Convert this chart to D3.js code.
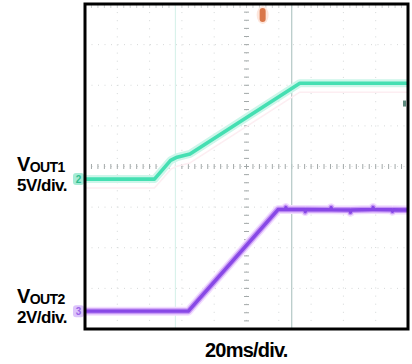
<!DOCTYPE html>
<html>
<head>
<meta charset="utf-8">
<script src="https://cdn.jsdelivr.net/npm/d3@7"></script>
<style>
  html, body { margin: 0; padding: 0; background: #fff; }
  svg { display: block; }
  text { font-family: "Liberation Sans", Arial, Helvetica, sans-serif; font-weight: bold; fill: #000; }
</style>
</head>
<body>
<svg id="scope" width="412" height="364"></svg>
<script>
// Time base: 20 ms per division, 10 divisions across the screen
const timeDomainMs = [-100, 100];
const divisionsY = [-4, 4];

// VOUT1 (channel 2), 5 V/div
const vout1TimeMs = [-100, -57, -47, -43, -35, 33, 100];
const vout1Volts  = [0, 0, 2.3, 2.7, 3.1, 11.8, 11.8];
const vout1VoltsPerDiv = 5;
const vout1GroundDiv = -0.31;

// VOUT2 (channel 3), 2 V/div, with the small switching spikes on the settled level
const vout2TimeMs = [-100, -60, -36, 19.5, 24, 24.4, 24.8, 36, 36.4, 36.8, 52, 52.4, 52.8,
                     64, 64.4, 64.8, 78, 78.4, 78.8, 90, 90.4, 90.8, 100];
const vout2Volts  = [0, 0, 0, 5.0, 5.0, 5.1, 5.0, 5.0, 4.9, 5.0, 4.99, 5.09, 4.99,
                     4.98, 4.87, 4.98, 5.0, 5.1, 5.0, 4.99, 4.92, 4.99, 4.98];
const vout2VoltsPerDiv = 2;
const vout2GroundDiv = -3.56;

// Cursor positions and trigger point (ms)
const cursorTimesMs = [-44, 28];
const triggerTimeMs = 10;

// Labels
const channelLabels = [
  { main: "V", sub: "OUT1", scale: "5V/div." },
  { main: "V", sub: "OUT2", scale: "2V/div." }
];
const timeLabel = "20ms/div.";

const svg = d3.select("#scope");
const frameL = 85, frameR = 408, frameT = 4, frameB = 329;

const x = d3.scaleLinear().domain(timeDomainMs).range([frameL, frameR]);
const y = d3.scaleLinear().domain(divisionsY).range([frameB, frameT]);

// Graticule: dotted division lines
const grid = svg.append("g");
const xDivs = d3.range(timeDomainMs[0] + 20, timeDomainMs[1], 20);
const yDivs = d3.range(divisionsY[0] + 1, divisionsY[1], 1);
grid.selectAll("line.v").data(xDivs).join("line")
  .attr("x1", d => x(d)).attr("x2", d => x(d))
  .attr("y1", frameT).attr("y2", frameB)
  .attr("stroke", "#d3d7d7").attr("stroke-width", 1)
  .attr("stroke-dasharray", "1,7.1");
grid.selectAll("line.h").data(yDivs).join("line")
  .attr("x1", frameL).attr("x2", frameR)
  .attr("y1", d => y(d)).attr("y2", d => y(d))
  .attr("stroke", "#d6d9d9").attr("stroke-width", 1)
  .attr("stroke-dasharray", "1,5.5");

// Minor ticks along the centre axes
const xMinor = d3.range(timeDomainMs[0], timeDomainMs[1] + 0.01, 4);
const yMinor = d3.range(divisionsY[0], divisionsY[1] + 0.01, 0.2);
grid.selectAll("line.xm").data(xMinor).join("line")
  .attr("x1", d => x(d)).attr("x2", d => x(d))
  .attr("y1", y(0) - 2.5).attr("y2", y(0) + 2.5)
  .attr("stroke", "#a3a9a9").attr("stroke-width", 1);
grid.selectAll("line.ym").data(yMinor).join("line")
  .attr("x1", x(0) - 2.5).attr("x2", x(0) + 2.5)
  .attr("y1", d => y(d)).attr("y2", d => y(d))
  .attr("stroke", "#a3a9a9").attr("stroke-width", 1);
// Minor ticks along the top edge
grid.selectAll("line.tm").data(xMinor).join("line")
  .attr("x1", d => x(d)).attr("x2", d => x(d))
  .attr("y1", frameT).attr("y2", frameT + 4)
  .attr("stroke", "#cdd1d1").attr("stroke-width", 1);

// Cursors
svg.append("g").selectAll("line").data(cursorTimesMs).join("line")
  .attr("x1", d => x(d)).attr("x2", d => x(d))
  .attr("y1", frameT).attr("y2", frameB)
  .attr("stroke", (d, i) => i === 0 ? "#d9f2eb" : "#b3c8c6")
  .attr("stroke-width", 1.2);

// Traces
function tracePoints(times, volts, vPerDiv, groundDiv) {
  return times.map((t, i) => [x(t), y(groundDiv + volts[i] / vPerDiv)]);
}
const line = d3.line();

const g1 = tracePoints(vout1TimeMs, vout1Volts, vout1VoltsPerDiv, vout1GroundDiv);
const g2 = tracePoints(vout2TimeMs, vout2Volts, vout2VoltsPerDiv, vout2GroundDiv);

const traces = svg.append("g").attr("stroke-linejoin", "round").attr("fill", "none");
traces.append("path").attr("d", line(g1.map(p => [p[0], p[1] + 9])))
  .attr("stroke", "#fdeef2").attr("stroke-width", 1.5);
traces.append("path").attr("d", line(g1))
  .attr("stroke", "#cdf6ea").attr("stroke-width", 8);
traces.append("path").attr("d", line(g1))
  .attr("stroke", "#45dfb2").attr("stroke-width", 3.6);

traces.append("path").attr("d", line(g2))
  .attr("stroke", "#f2ddff").attr("stroke-width", 9);
traces.append("path").attr("d", line(g2))
  .attr("stroke", "#c79af5").attr("stroke-width", 6);
traces.append("path").attr("d", line(g2))
  .attr("stroke", "#8848e6").attr("stroke-width", 3.4);

// Channel ground markers
const markers = [
  { div: vout1GroundDiv, fill: "#a6ecd6", ink: "#2fbf90", label: "2" },
  { div: vout2GroundDiv, fill: "#dcc4fb", ink: "#9a66e8", label: "3" }
];
const mg = svg.append("g");
mg.selectAll("rect").data(markers).join("rect")
  .attr("x", frameL - 12).attr("y", d => y(d.div) - 6)
  .attr("width", 11).attr("height", 12).attr("rx", 3)
  .attr("fill", d => d.fill);
mg.selectAll("text").data(markers).join("text")
  .attr("x", frameL - 6.5).attr("y", d => y(d.div) + 4)
  .attr("text-anchor", "middle").attr("font-size", 10)
  .style("fill", d => d.ink).text(d => d.label);

// Trigger marker at the top
svg.append("ellipse")
  .attr("cx", x(triggerTimeMs)).attr("cy", frameT + 11)
  .attr("rx", 6).attr("ry", 9).attr("fill", "#fde6dc");
svg.append("rect")
  .attr("x", x(triggerTimeMs) - 3).attr("y", frameT + 4)
  .attr("width", 6).attr("height", 14).attr("rx", 3)
  .attr("fill", "#d9774a");

// Right-edge level marker
svg.append("rect")
  .attr("x", frameR - 5).attr("y", y(1.55) - 3)
  .attr("width", 3).attr("height", 6)
  .attr("fill", "#5d8a7e");

// Screen frame
svg.append("rect")
  .attr("x", frameL).attr("y", frameT)
  .attr("width", frameR - frameL).attr("height", frameB - frameT)
  .attr("fill", "none").attr("stroke", "#000").attr("stroke-width", 3);

// Channel labels: name with subscript, scale on the line below
const labelY = [y(vout1GroundDiv), y(vout2GroundDiv)];
channelLabels.forEach((c, i) => {
  const base = labelY[i];
  const t = svg.append("text").attr("x", 17).attr("y", base - 8)
    .attr("letter-spacing", -0.6);
  t.append("tspan").attr("font-size", 20).text(c.main);
  t.append("tspan").attr("font-size", 14).attr("dy", 1).text(c.sub);
  svg.append("text").attr("x", 17).attr("y", base + 12)
    .attr("font-size", 17).attr("letter-spacing", -0.5).text(c.scale);
});

// Time base label
svg.append("text").attr("x", 205).attr("y", 357)
  .attr("font-size", 20).attr("letter-spacing", -0.8).text(timeLabel);
</script>
</body>
</html>
